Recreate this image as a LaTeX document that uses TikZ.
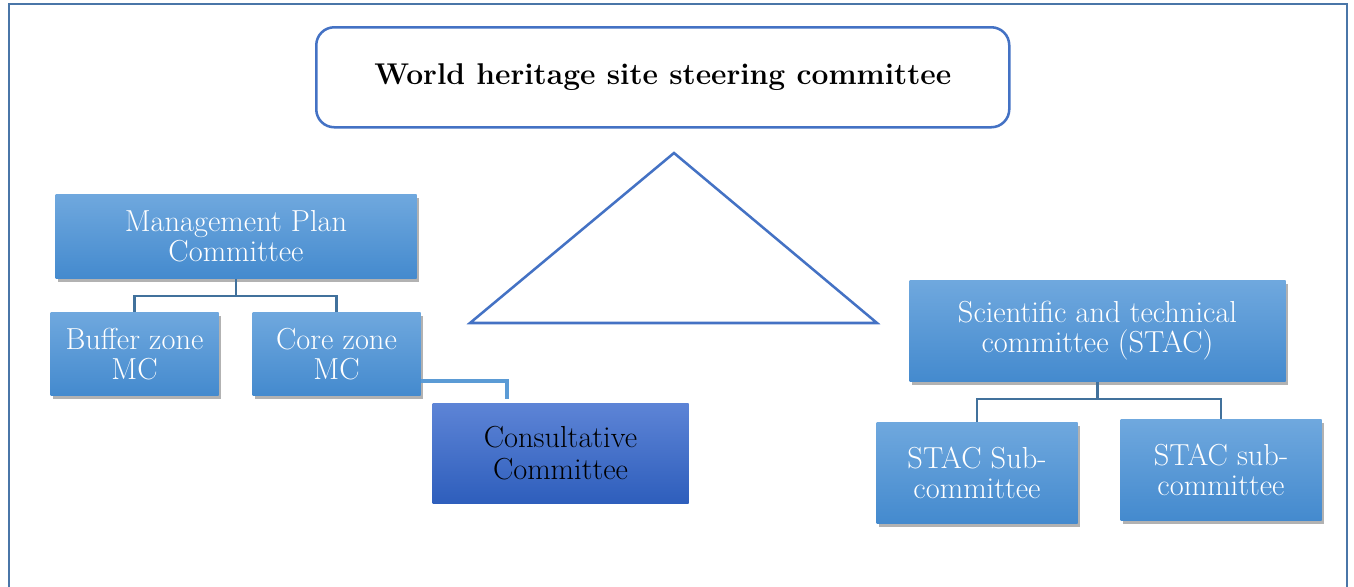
\documentclass[tikz,border=0pt]{standalone}
\usetikzlibrary{shadows,calc}

\definecolor{frameblue}{RGB}{74,118,168}
\definecolor{lineblue}{RGB}{68,114,196}
\definecolor{treeblue}{RGB}{65,113,156}
\definecolor{linkblue}{RGB}{91,155,213}
\definecolor{boxtop}{RGB}{111,168,222}
\definecolor{boxbot}{RGB}{68,138,206}
\definecolor{cctop}{RGB}{93,132,214}
\definecolor{ccbot}{RGB}{46,94,188}

\tikzset{every picture/.style={line width=0.75pt}}
\tikzset{
  orgbox/.style={rectangle, anchor=north west, inner sep=0pt, align=center,
    top color=boxtop, bottom color=boxbot, text=white,
    drop shadow={shadow xshift=1.5pt, shadow yshift=-2.5pt, fill=black!60, opacity=0.5},
    font=\fontsize{22.8}{22.5}\selectfont},
  ccbox/.style={rectangle, anchor=north west, inner sep=0pt, align=center,
    top color=cctop, bottom color=ccbot, text=black,
    font=\fontsize{22.8}{24}\selectfont},
  tree/.style={draw=treeblue, line width=1.8pt},
  link/.style={draw=linkblue, line width=2.3pt}
}

\begin{document}
\begin{tikzpicture}[x=0.75pt,y=0.75pt,yscale=-1,xscale=1]
	\useasboundingbox (0,0) rectangle (1354,586);
	
	%Shape: Frame [id:fr1] 
	\draw [color=frameblue, line width=1.7pt]  (9,590) -- (9,4) -- (1347,4) -- (1347,590) ;
	
	%Rounded Rect [id:title] 
	\draw (315,26) node [anchor=north west, draw=lineblue, line width=1.9pt, rounded corners=13.5pt, minimum width=519.75pt, minimum height=75pt, inner sep=0pt] (wh) {\fontsize{22.5}{24}\selectfont\bfseries World heritage site steering committee};
	
	%Shape: Triangle [id:tri] 
	\draw [color=lineblue, line width=1.9pt]  (674,153) -- (877,323) -- (470,323) -- cycle ;
	
	% Text Node
	\draw (55,194) node [orgbox, minimum width=270.75pt, minimum height=63pt] (mpc) {Management Plan\\Committee};
	% Text Node
	\draw (50,312) node [orgbox, minimum width=126pt, minimum height=62.25pt] (buffer) {Buffer zone\\MC};
	% Text Node
	\draw (252,312) node [orgbox, minimum width=126pt, minimum height=62.25pt] (core) {Core zone\\MC};
	% Text Node
	\draw (432,403) node [ccbox, minimum width=192pt, minimum height=75pt] (consult) {Consultative\\Committee};
	% Text Node
	\draw (909,280) node [orgbox, minimum width=282pt, minimum height=75.75pt] (stac) {Scientific and technical\\committee (STAC)};
	% Text Node
	\draw (876,422) node [orgbox, minimum width=150.75pt, minimum height=75.75pt] (subA) {STAC Sub-\\committee};
	% Text Node
	\draw (1120,419) node [orgbox, minimum width=150.75pt, minimum height=75.75pt] (subB) {STAC sub-\\committee};
	
	%Connectors [id:mpc] 
	\draw [tree]  (mpc.south) -- ++(0,17) coordinate (mpcbus) -| (buffer.north) ;
	\draw [tree]  (mpcbus) -| (core.north) ;
	%Connectors [id:stac] 
	\draw [tree]  (stac.south) -- ++(0,17) coordinate (stacbus) -| (subA.north) ;
	\draw [tree]  (stacbus) -| (subB.north) ;
	%Connectors [id:cc] 
	\draw [link]  ($(core.south east)+(0,-15)$) -| ($(consult.north west)+(75,-4)$) ;
	
\end{tikzpicture}
\end{document}
